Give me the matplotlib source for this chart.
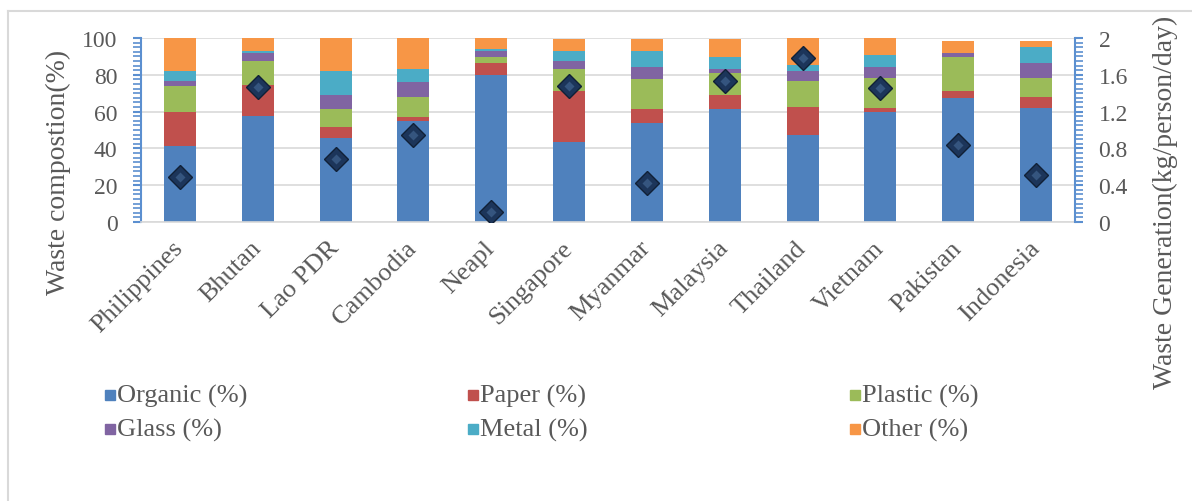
import matplotlib.pyplot as plt
import numpy as np
from matplotlib.patches import Rectangle
from matplotlib.lines import Line2D
from matplotlib.ticker import MultipleLocator

plt.rcParams['font.family'] = ['Liberation Serif', 'DejaVu Serif']

countries = ['Philippines', 'Bhutan', 'Lao PDR', 'Cambodia', 'Neapl', 'Singapore',
             'Myanmar', 'Malaysia', 'Thailand', 'Vietnam', 'Pakistan', 'Indonesia']

organic = [41.1, 57.4, 45.5, 55.1, 80.0, 43.3, 53.8, 61.4, 47.5, 59.6, 67.2, 61.8]
paper   = [18.5, 17.2, 6.3, 2.1, 6.4, 28.1, 7.6, 7.8, 15.2, 2.2, 4.2, 6.2]
plastic = [14.1, 12.9, 9.6, 10.8, 3.3, 11.8, 16.5, 12.0, 14.1, 16.3, 18.4, 10.1]
glass   = [3.1, 4.3, 7.6, 7.9, 3.2, 4.3, 6.3, 2.0, 5.4, 6.3, 2.0, 8.5]
metal   = [5.4, 1.1, 13.2, 7.4, 1.1, 5.4, 8.7, 6.6, 3.3, 6.5, 0.0, 8.7]
other   = [17.8, 7.1, 17.8, 16.7, 6.0, 6.6, 6.6, 9.7, 14.5, 9.1, 6.6, 3.1]

generation = [0.49, 1.47, 0.68, 0.95, 0.11, 1.48, 0.42, 1.53, 1.78, 1.46, 0.84, 0.51]

labels = ['Organic (%)', 'Paper (%)', 'Plastic (%)', 'Glass (%)', 'Metal (%)', 'Other (%)']
colors = ['#4F81BD', '#C0504D', '#9BBB59', '#8064A2', '#4BACC6', '#F79646']

txt = '#595959'
axblue = '#5B8FD0'

fig = plt.figure(figsize=(11.92, 5.02), dpi=100)
ax = fig.add_axes([141 / 1192, 1 - 223 / 502, 934 / 1192, 184 / 502])

x = np.arange(len(countries))
bottom = np.zeros(len(countries))
for vals, lab, col in zip([organic, paper, plastic, glass, metal, other], labels, colors):
    ax.bar(x, vals, 0.41, bottom=bottom, color=col, label=lab, zorder=2)
    bottom += np.array(vals)

ax.set_xlim(-0.5, len(countries) - 0.5)
ax.set_ylim(0, 100)
ax.yaxis.set_major_locator(MultipleLocator(20))
ax.yaxis.set_minor_locator(MultipleLocator(2.5))
ax.grid(axis='y', color='#D9D9D9', linewidth=1.2, zorder=0)
ax.set_axisbelow(True)

for s in ['top', 'right']:
    ax.spines[s].set_visible(False)
ax.spines['left'].set_color(axblue)
ax.spines['left'].set_linewidth(1.5)
ax.spines['bottom'].set_color('#D9D9D9')
ax.spines['bottom'].set_linewidth(1.2)

ax.tick_params(axis='y', which='major', colors=axblue, length=6, width=1.5,
               labelsize=17, labelcolor=txt, pad=11)
ax.tick_params(axis='y', which='minor', colors=axblue, length=6, width=1.2)
ax.set_xticks(x)
ax.set_xticklabels(countries, rotation=45, ha='right', va='center',
                   rotation_mode='anchor', fontsize=19, color=txt)
ax.tick_params(axis='x', length=0, pad=16)

ax2 = ax.twinx()
ax2.set_ylim(0, 2)
ax2.yaxis.set_major_locator(MultipleLocator(0.4))
ax2.yaxis.set_minor_locator(MultipleLocator(0.05))
ax2.yaxis.set_major_formatter(lambda v, p: f'{v:g}')
for s in ['top', 'left', 'bottom']:
    ax2.spines[s].set_visible(False)
ax2.spines['right'].set_color(axblue)
ax2.spines['right'].set_linewidth(1.5)
ax2.tick_params(axis='y', which='major', colors=axblue, length=6, width=1.5,
                labelsize=17, labelcolor=txt, pad=11)
ax2.tick_params(axis='y', which='minor', colors=axblue, length=6, width=1.2)

# generation per capita as dark diamonds, with a small highlight on top
ax2.plot(x, generation, linestyle='none', marker='D', markersize=12,
         markerfacecolor='#1C355A', markeredgecolor='#102036', markeredgewidth=1, zorder=5)
ax2.plot(x, generation, linestyle='none', marker='D', markersize=5,
         markerfacecolor='#35557F', markeredgecolor='none', zorder=6)

fig.text(58 / 1192, 1 - 172 / 502, 'Waste compostion(%)', rotation=90, ha='center',
         va='center', fontsize=20, color=txt)
fig.text(1165 / 1192, 1 - 202 / 502, 'Waste Generation(kg/person/day)', rotation=90,
         ha='center', va='center', fontsize=20, color=txt)

# legend: three columns, two rows
cols_x = [105, 468, 850]
rows_y = [396, 430]
order = [(0, 0), (0, 1), (0, 2), (1, 0), (1, 1), (1, 2)]
for (r, c), lab, col in zip(order, labels, colors):
    px, py = cols_x[c], rows_y[r]
    fig.patches.append(Rectangle((px / 1192, 1 - (py + 5) / 502), 10 / 1192, 10 / 502,
                                 transform=fig.transFigure, color=col, figure=fig))
    fig.text((px + 12) / 1192, 1 - py / 502, lab, ha='left', va='center',
             fontsize=19, color=txt)

# chart area frame (left and top edges)
fig.add_artist(Line2D([8 / 1192, 8 / 1192], [0, 1 - 12 / 502], color='#D9D9D9',
                      linewidth=1.5, transform=fig.transFigure))
fig.add_artist(Line2D([8 / 1192, 1], [1 - 12 / 502, 1 - 12 / 502], color='#D9D9D9',
                      linewidth=1.5, transform=fig.transFigure))

fig.savefig('out.png', dpi=100, facecolor='white')
